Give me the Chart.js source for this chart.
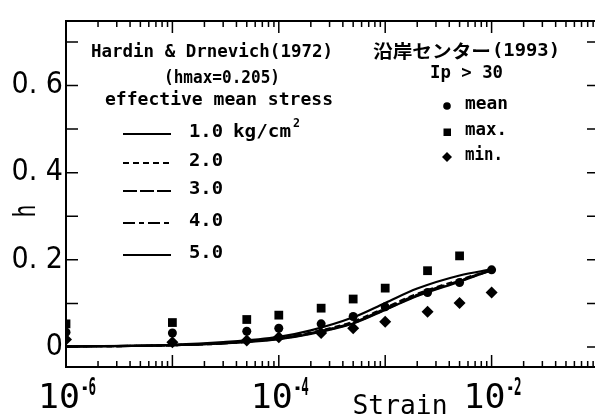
<!DOCTYPE html>
<html><head><meta charset="utf-8">
<script src="https://cdn.jsdelivr.net/npm/chart.js@4/dist/chart.umd.min.js"></script>
<style>html,body{margin:0;padding:0;background:#fff;overflow:hidden;width:595px;height:420px}
canvas{display:block}</style></head>
<body><canvas id="c" width="610" height="420"></canvas>
<script>
// ---- data ----
const strainPts = [1e-6, 1e-5, 5e-5, 1e-4, 2.5e-4, 5e-4, 1e-3, 2.5e-3, 5e-3, 1e-2];
const hMean = [0.034, 0.032, 0.036, 0.043, 0.053, 0.070, 0.092, 0.125, 0.148, 0.177];
const hMax  = [0.053, 0.056, 0.063, 0.073, 0.089, 0.110, 0.135, 0.175, 0.209, null];
const hMin  = [0.017, 0.011, 0.015, 0.022, 0.032, 0.043, 0.058, 0.081, 0.101, 0.125];

const curveStrain = [1e-6, 1e-5, 3e-5, 1e-4, 2e-4, 5e-4, 1e-3, 2e-3, 5e-3, 1e-2];
const hd10 = [0.001, 0.005, 0.011, 0.023, 0.038, 0.068, 0.101, 0.134, 0.164, 0.178];
const hd20 = [0.001, 0.004, 0.009, 0.020, 0.033, 0.058, 0.090, 0.122, 0.154, 0.177];
const hd30 = [0.001, 0.004, 0.009, 0.019, 0.032, 0.056, 0.088, 0.120, 0.152, 0.177];
const hd40 = [0.001, 0.004, 0.008, 0.019, 0.031, 0.055, 0.086, 0.118, 0.151, 0.176];
const hd50 = [0.001, 0.004, 0.008, 0.018, 0.030, 0.054, 0.085, 0.117, 0.150, 0.176];
const stressLabels = ['1.0', '2.0', '3.0', '4.0', '5.0'];

const yTickValues = [0, 0.2, 0.4, 0.6];
const yTickLabels = ['0', '0. 2', '0. 4', '0. 6'];
const yMinorTicks = [0, 0.1, 0.2, 0.3, 0.4, 0.5, 0.6, 0.7];
const xTickValues = [1e-6, 1e-4, 1e-2];
const xTickExps = ['-6', '-4', '-2'];

const toXY = (xs, ys) => xs.map((x, i) => ({x: x, y: ys[i]}));
const dashes = [[], [6, 4], [14, 3], [12, 4, 5, 4], []];
const curves = [hd10, hd20, hd30, hd40, hd50];

const datasets = [];
datasets.push({label: 'mean', data: toXY(strainPts, hMean), pointStyle: 'circle', pointRadius: 4.5,
  backgroundColor: '#000', borderColor: '#000', borderWidth: 0, showLine: false, order: 0});
datasets.push({label: 'max.', data: toXY(strainPts, hMax), pointStyle: 'rect', pointRadius: 6.2,
  backgroundColor: '#000', borderColor: '#000', borderWidth: 0, showLine: false, order: 0});
datasets.push({label: 'min.', data: toXY(strainPts, hMin), pointStyle: 'rectRot', pointRadius: 6,
  backgroundColor: '#000', borderColor: '#000', borderWidth: 0, showLine: false, order: 0});
curves.forEach((c, i) => datasets.push({label: stressLabels[i], data: toXY(curveStrain, c), showLine: true,
  pointRadius: 0, borderColor: '#000', borderWidth: 2.2, borderDash: dashes[i],
  cubicInterpolationMode: 'monotone', fill: false, order: 1}));

function drawFit(ctx, text, x, y, w, align) {
  const m = ctx.measureText(text).width;
  ctx.save();
  ctx.translate(x, y);
  ctx.scale(w / m, 1);
  ctx.textAlign = 'left';
  ctx.fillText(text, align === 'center' ? -m / 2 : (align === 'right' ? -m : 0), 0);
  ctx.restore();
}

const decor = {
  id: 'decor',
  afterDraw(chart) {
    const ctx = chart.ctx, a = chart.chartArea;
    const xs = chart.scales.x, ys = chart.scales.y;
    ctx.save();
    ctx.strokeStyle = '#000'; ctx.fillStyle = '#000';
    ctx.lineWidth = 2;
    ctx.strokeRect(a.left, a.top, a.right - a.left, a.bottom - a.top);
    // x ticks (inward, bottom and top)
    ctx.lineWidth = 1.5;
    ctx.beginPath();
    for (let e = -6; e <= -1; e++) {
      for (let k = 1; k <= 9; k++) {
        const v = k * Math.pow(10, e);
        if (v > xs.max * 1.0001) continue;
        const px = xs.getPixelForValue(v);
        const len = k === 1 ? 12 : 6;
        ctx.moveTo(px, a.bottom); ctx.lineTo(px, a.bottom - len);
        ctx.moveTo(px, a.top); ctx.lineTo(px, a.top + len);
      }
    }
    yMinorTicks.forEach(v => {
      const py = ys.getPixelForValue(v);
      ctx.moveTo(a.left, py); ctx.lineTo(a.left + 12, py);
      ctx.moveTo(a.right, py); ctx.lineTo(a.right - 11, py);
    });
    ctx.stroke();
    // x tick labels 10^n
    ctx.textBaseline = 'alphabetic';
    xTickValues.forEach((v, i) => {
      const px = xs.getPixelForValue(v);
      ctx.font = '33px "DejaVu Sans Mono"';
      drawFit(ctx, '10', px - 28, 408, 42, 'left');
      ctx.font = 'bold 24px "DejaVu Sans Mono"';
      drawFit(ctx, xTickExps[i], px + 15, 395, 15, 'left');
    });
    // axis titles
    ctx.font = '26px "DejaVu Sans Mono"';
    drawFit(ctx, 'Strain', 400, 414, 95, 'center');
    ctx.save();
    ctx.translate(35, 211);
    ctx.rotate(-Math.PI / 2);
    ctx.font = '30px "DejaVu Sans Mono"';
    ctx.textBaseline = 'alphabetic';
    drawFit(ctx, 'h', 0, 0, 13, 'center');
    ctx.restore();
    // legend (left)
    ctx.textBaseline = 'middle';
    ctx.font = 'bold 18px "DejaVu Sans Mono"';
    drawFit(ctx, 'Hardin & Drnevich(1972)', 212, 52, 242, 'center');
    drawFit(ctx, '(hmax=0.205)', 222, 78, 116, 'center');
    drawFit(ctx, 'effective mean stress', 219, 100, 228, 'center');
    const ly = [134, 163, 191, 223, 255];
    stressLabels.forEach((s, i) => {
      ctx.save();
      ctx.lineWidth = 2;
      ctx.setLineDash(dashes[i]);
      ctx.beginPath(); ctx.moveTo(123, ly[i]); ctx.lineTo(171, ly[i]); ctx.stroke();
      ctx.restore();
      ctx.font = 'bold 18px "DejaVu Sans Mono"';
      drawFit(ctx, s, 189, ly[i] - 2, 34, 'left');
    });
    drawFit(ctx, 'kg/cm', 233, 132, 58, 'left');
    ctx.font = 'bold 12px "DejaVu Sans Mono"';
    drawFit(ctx, '2', 293, 124, 7, 'left');
    // legend (right)
    ctx.font = 'bold 18px "Noto Sans CJK JP"';
    drawFit(ctx, '沿岸センター', 373, 51, 118, 'left');
    ctx.font = 'bold 18px "DejaVu Sans Mono"';
    drawFit(ctx, '(1993)', 492, 51, 68, 'left');
    drawFit(ctx, 'Ip > 30', 430, 73, 73, 'left');
    drawFit(ctx, 'mean', 465, 104, 43, 'left');
    drawFit(ctx, 'max.', 465, 130, 42, 'left');
    drawFit(ctx, 'min.', 465, 155, 38, 'left');
    ctx.beginPath(); ctx.arc(447, 106, 3.8, 0, Math.PI * 2); ctx.fill();
    ctx.fillRect(443.5, 128.5, 7.5, 7.5);
    ctx.beginPath(); ctx.moveTo(447, 152); ctx.lineTo(452, 157); ctx.lineTo(447, 162); ctx.lineTo(442, 157); ctx.closePath(); ctx.fill();
    ctx.restore();
  }
};

new Chart(document.getElementById('c'), {
  type: 'scatter',
  data: {datasets: datasets},
  options: {
    responsive: false, animation: false, devicePixelRatio: 1,
    layout: {padding: {left: 0, right: 12, top: 12, bottom: 0}},
    plugins: {legend: {display: false}, tooltip: {enabled: false}},
    scales: {
      x: {type: 'logarithmic', min: 1e-6, max: 1e-1,
        grid: {display: false}, border: {display: false},
        ticks: {display: false},
        afterFit: s => { s.height = 53; }},
      y: {type: 'linear', min: -0.046, max: 0.748,
        grid: {display: false, drawTicks: false}, border: {display: false},
        afterBuildTicks: s => { s.ticks = yTickValues.map(v => ({value: v})); },
        ticks: {padding: 3, color: '#000',
          font: {family: "'Liberation Sans Narrow', 'DejaVu Sans Condensed', 'Liberation Sans'", size: 30},
          callback: (v) => { const i = yTickValues.indexOf(v); return i >= 0 ? yTickLabels[i] : ''; }},
        afterFit: s => { s.width = 66; }}
    }
  },
  plugins: [decor]
});
</script></body></html>
